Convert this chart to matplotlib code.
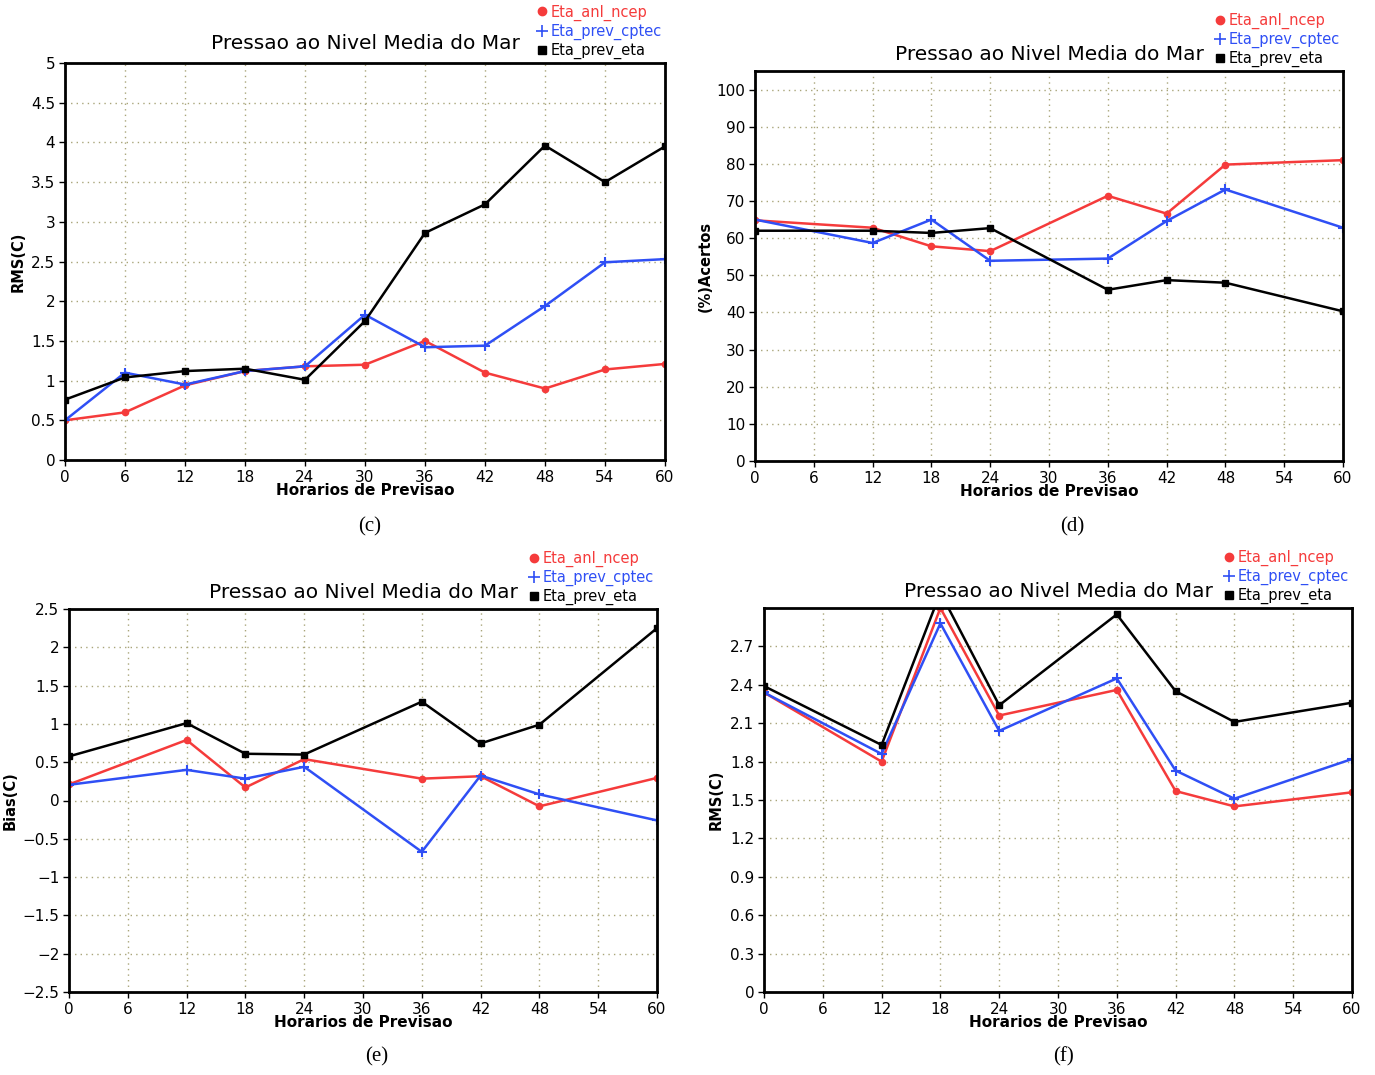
import matplotlib
matplotlib.use("Agg")
import matplotlib.pyplot as plt
from matplotlib.lines import Line2D

# ---------------- data ----------------
hours_all = [0, 6, 12, 18, 24, 30, 36, 42, 48, 54, 60]
hours_sub = [0, 12, 18, 24, 36, 42, 48, 60]

c_ncep = [0.50, 0.60, 0.94, 1.12, 1.18, 1.20, 1.50, 1.10, 0.90, 1.14, 1.21]
c_cptec = [0.50, 1.10, 0.95, 1.12, 1.18, 1.83, 1.42, 1.44, 1.94, 2.49, 2.53]
c_eta = [0.76, 1.04, 1.12, 1.15, 1.01, 1.75, 2.86, 3.22, 3.96, 3.50, 3.95]

d_ncep = [64.8, 62.8, 57.8, 56.5, 71.4, 66.6, 79.8, 81.0]
d_cptec = [65.0, 58.7, 65.0, 53.9, 54.5, 64.6, 73.1, 62.8]
d_eta = [62.0, 62.0, 61.4, 62.7, 46.1, 48.7, 48.0, 40.3]

e_ncep = [0.21, 0.79, 0.17, 0.54, 0.285, 0.317, -0.076, 0.295]
e_cptec = [0.205, 0.40, 0.285, 0.44, -0.67, 0.326, 0.08, -0.26]
e_eta = [0.576, 1.01, 0.61, 0.60, 1.29, 0.745, 0.99, 2.25]

f_ncep = [2.34, 1.80, 3.00, 2.16, 2.36, 1.57, 1.45, 1.56]
f_cptec = [2.34, 1.86, 2.88, 2.04, 2.45, 1.73, 1.51, 1.82]
f_eta = [2.39, 1.93, 3.12, 2.24, 2.95, 2.35, 2.11, 2.26]

series_names = ["Eta_anl_ncep", "Eta_prev_cptec", "Eta_prev_eta"]
title = "Pressao ao Nivel Media do Mar"
xlabel = "Horarios de Previsao"
xticks = [0, 6, 12, 18, 24, 30, 36, 42, 48, 54, 60]

RED = "#f53b3b"
BLUE = "#2f4ff5"
BLACK = "#000000"
GRID = "#a9a57a"

W, H = 1375, 1075
fig = plt.figure(figsize=(W / 100, H / 100), dpi=100)
fig.patch.set_facecolor("white")


def px_axes(left, top, right, bottom):
    return fig.add_axes([left / W, 1 - bottom / H, (right - left) / W, (bottom - top) / H])


def style(ax, ylim, yticks, yticklabels, ylabel, caption, cap_xy, ylabel_x, title_gap):
    ax.set_xlim(0, 60)
    ax.set_ylim(*ylim)
    ax.set_xticks(xticks)
    ax.set_xticklabels([str(t) for t in xticks])
    ax.set_yticks(yticks)
    ax.set_yticklabels(yticklabels)
    ax.grid(True, color=GRID, linestyle=(0, (1, 3)), linewidth=1.0)
    ax.set_axisbelow(True)
    for s in ax.spines.values():
        s.set_linewidth(2.0)
        s.set_color("black")
    ax.tick_params(axis="both", direction="out", length=4, width=1, labelsize=11,
                   pad=3, colors="black")
    ax.set_xlabel(xlabel, fontsize=11, fontweight="bold", labelpad=-1)
    ax.set_title(title, fontsize=14.5, pad=title_gap)
    if ylabel:
        fig.text(ylabel_x / W, (ax.get_position().y0 + ax.get_position().y1) / 2,
                 ylabel, rotation=90, ha="center", va="center",
                 fontsize=10.5, fontweight="bold")
    fig.text(cap_xy[0] / W, 1 - cap_xy[1] / H, caption, ha="center", va="center",
             fontsize=15, family="Liberation Serif")
    handles = [
        Line2D([], [], color=RED, marker="o", markersize=6, linestyle="none"),
        Line2D([], [], color=BLUE, marker="+", markersize=8, markeredgewidth=1.2, linestyle="none"),
        Line2D([], [], color=BLACK, marker="s", markersize=6, linestyle="none"),
    ]
    leg = ax.legend(handles, series_names, loc="lower right", bbox_to_anchor=(0.995, 1.01),
                    frameon=False, fontsize=10.5, handlelength=0.6, handletextpad=0.3,
                    labelspacing=0.2, borderpad=0, borderaxespad=0)
    for t, c in zip(leg.get_texts(), [RED, BLUE, BLACK]):
        t.set_color(c)


def draw(ax, x, ncep, cptec, eta):
    ax.plot(x, ncep, color=RED, linewidth=1.8, marker="o", markersize=4.5)
    ax.plot(x, cptec, color=BLUE, linewidth=1.8, marker="+", markersize=7, markeredgewidth=1.5)
    ax.plot(x, eta, color=BLACK, linewidth=1.8, marker="s", markersize=4.5)


# (c)
ax_c = px_axes(65, 63, 665, 460)
draw(ax_c, hours_all, c_ncep, c_cptec, c_eta)
yt = [0, 0.5, 1, 1.5, 2, 2.5, 3, 3.5, 4, 4.5, 5]
style(ax_c, (0, 5), yt, ["0", "0.5", "1", "1.5", "2", "2.5", "3", "3.5", "4", "4.5", "5"],
      "RMS(C)", "(c)", (370, 527), 18, 10)

# (d)
ax_d = px_axes(755, 71, 1343, 461)
draw(ax_d, hours_sub, d_ncep, d_cptec, d_eta)
yt = list(range(0, 101, 10))
style(ax_d, (0, 105), yt, [str(v) for v in yt], "(%)Acertos", "(d)", (1072, 527), 705, 8)

# (e)
ax_e = px_axes(69, 609, 657, 992)
draw(ax_e, hours_sub, e_ncep, e_cptec, e_eta)
yt = [-2.5, -2, -1.5, -1, -0.5, 0, 0.5, 1, 1.5, 2, 2.5]
ylab = ["\u22122.5", "\u22122", "\u22121.5", "\u22121", "\u22120.5", "0", "0.5", "1", "1.5", "2", "2.5"]
style(ax_e, (-2.5, 2.5), yt, ylab, "Bias(C)", "(e)", (377, 1057), 10, 8)

# (f)
ax_f = px_axes(764, 608, 1352, 992)
draw(ax_f, hours_sub, f_ncep, f_cptec, f_eta)
yt = [0, 0.3, 0.6, 0.9, 1.2, 1.5, 1.8, 2.1, 2.4, 2.7]
style(ax_f, (0, 3.0), yt, ["0", "0.3", "0.6", "0.9", "1.2", "1.5", "1.8", "2.1", "2.4", "2.7"],
      "RMS(C)", "(f)", (1064, 1057), 716, 8)

fig.savefig("out.png", dpi=100, facecolor="white")
